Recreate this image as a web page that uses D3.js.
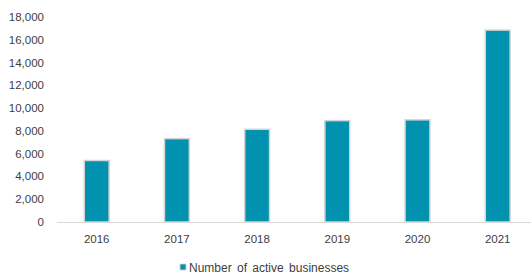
<!DOCTYPE html>
<html><head><meta charset="utf-8">
<script src="https://cdn.jsdelivr.net/npm/d3@7"></script>
<style>body{margin:0;background:#fff}svg{display:block}text{font-family:"Liberation Sans",Arial,sans-serif;fill:#404040}</style>
</head><body><svg id="c" width="531" height="275"></svg>
<script>
const years = ["2016","2017","2018","2019","2020","2021"];
const activeBusinesses = [5400, 7320, 8140, 8900, 8970, 16850];
const yTicks = [0,2000,4000,6000,8000,10000,12000,14000,16000,18000];
const seriesName = "Number of active businesses";

const svg = d3.select("#c");
const x = d3.scaleBand().domain(years).range([56.6, 537.8]).paddingInner(0.69).paddingOuter(0.345);
const y = d3.scaleLinear().domain([0,18000]).range([222, 17]);

// y labels
svg.append("g").selectAll("text").data(yTicks).join("text")
  .attr("x", 44).attr("y", d => y(d)).attr("dy", "0.35em")
  .attr("text-anchor", "end").style("font-size","11.5px")
  .text(d => d3.format(",")(d));

// bars
svg.append("g").selectAll("rect").data(years).join("rect")
  .attr("x", d => x(d)).attr("width", x.bandwidth())
  .attr("y", (d,i) => y(activeBusinesses[i]))
  .attr("height", (d,i) => y(0) - y(activeBusinesses[i]))
  .attr("fill", "#0092AF").attr("stroke", "#d4d4d4").attr("stroke-width", 1.5);

// baseline
svg.append("line").attr("x1", 57).attr("x2", 531).attr("y1", y(0)+0.5).attr("y2", y(0)+0.5)
  .attr("stroke", "#d9d9d9").attr("stroke-width", 1);

// x labels
svg.append("g").selectAll("text").data(years).join("text")
  .attr("x", d => x(d) + x.bandwidth()/2).attr("y", 242.5)
  .attr("text-anchor", "middle").style("font-size","11.5px").text(d => d);

// legend
const lg = svg.append("g");
lg.append("rect").attr("x", 180).attr("y", 264).attr("width", 6).attr("height", 6)
  .attr("fill", "#0092AF").attr("stroke", "#d4d4d4").attr("stroke-width", 0.8);
lg.append("text").attr("x", 189).attr("y", 271.5).style("font-size","12px")
  .style("word-spacing","2px").text(seriesName);
</script></body></html>
